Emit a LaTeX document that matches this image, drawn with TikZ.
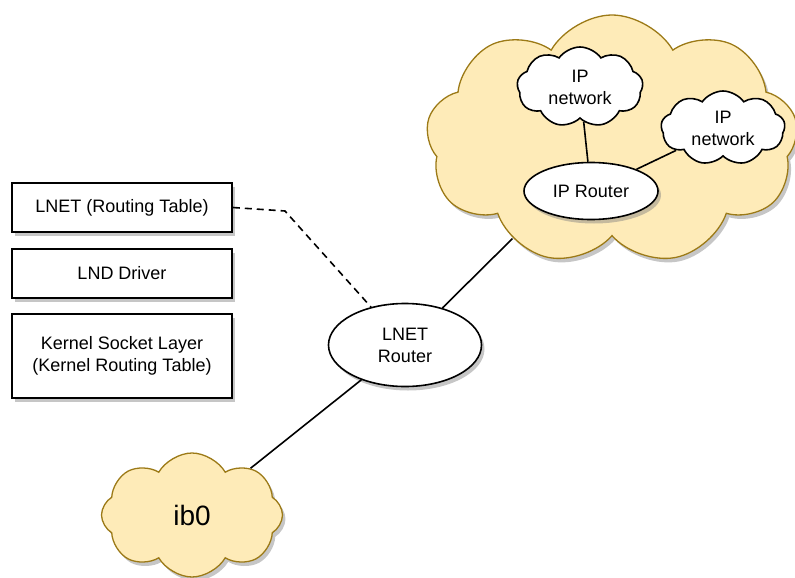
\documentclass[tikz,border=0pt]{standalone}
\usepackage{fontspec}
\setmainfont{Liberation Sans}
\usetikzlibrary{shapes.symbols,shapes.geometric,shadows}

\definecolor{cloudfill}{HTML}{FEEBB8}
\definecolor{cloudline}{HTML}{9C7A17}

\begin{document}
\begin{tikzpicture}[x=1pt,y=-1pt,
    font=\fontsize{18}{22}\selectfont,
    line width=1.6pt,
    shade/.style={drop shadow={opacity=0.45,shadow xshift=3pt,shadow yshift=-4pt}},
    layerbox/.style={draw,fill=white,shade,minimum width=220pt,align=center},
    router/.style={ellipse,draw,fill=white,shade,align=center,inner sep=0pt},
    netcloud/.style={cloud,cloud puffs=9,cloud puff arc=110,cloud ignores aspect,draw,fill=white,align=center,inner sep=0pt},
    yellowcloud/.style={cloud,cloud puffs=9,cloud puff arc=120,cloud ignores aspect,draw=cloudline,line width=1.3pt,fill=cloudfill,shade}]
\useasboundingbox (0,0) rectangle (795,578);
% host stack
\node[layerbox,minimum height=49pt] (lnet) at (122,207.5) {LNET (Routing Table)};
\node[layerbox,minimum height=49pt] (lnd) at (122,273.5) {LND Driver};
\node[layerbox,minimum height=84pt] (socket) at (122,356) {Kernel Socket Layer\\(Kernel Routing Table)};
% networks
\node[yellowcloud,minimum width=372pt,minimum height=250pt] (ipcloud) at (612,140) {};
\node[netcloud,minimum width=126pt,minimum height=80pt] (ipnet1) at (580,87) {IP\\network};
\node[netcloud,minimum width=124pt,minimum height=74pt] (ipnet2) at (723,128) {IP\\network};
\node[router,minimum width=134pt,minimum height=57pt] (iprouter) at (591,191) {IP Router};
\node[router,minimum width=153pt,minimum height=83pt] (lnetrouter) at (405,345) {LNET\\Router};
\node[yellowcloud,cloud puffs=8,minimum width=181pt,minimum height=124pt,font=\fontsize{28}{32}\selectfont] (ib0) at (192,515) {ib0};
% links
\coordinate (bend) at (285,211);
\draw (ipnet1) -- (iprouter);
\draw (ipnet2) -- (iprouter);
\draw (ipcloud) -- (lnetrouter);
\draw (lnetrouter) -- (ib0);
\draw[dash pattern=on 7pt off 5pt] (lnet.east) -- (bend) -- (lnetrouter);
\end{tikzpicture}
\end{document}
